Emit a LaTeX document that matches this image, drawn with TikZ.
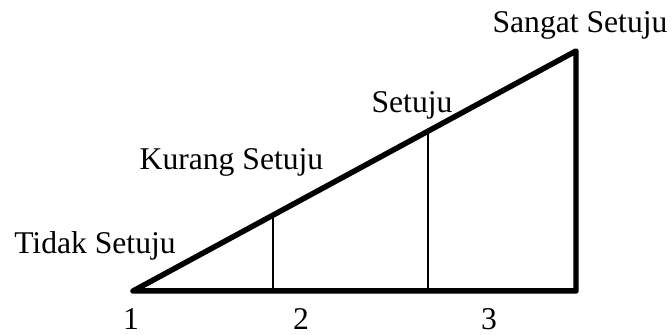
\documentclass[tikz,border=0pt]{standalone}
\usepackage{fontspec}
\setmainfont{Liberation Serif}
\usetikzlibrary{calc}

\begin{document}
\begin{tikzpicture}[line cap=round, line join=round,
    tepi/.style={line width=2.6pt, black},
    sekat/.style={line width=0.6pt, black},
    label/.style={anchor=base, inner sep=0pt, font=\fontsize{15}{18}\selectfont}]
      \useasboundingbox (0,0) rectangle (11.2,5.567);

      % Titik sudut segitiga
      \coordinate (A) at (2.217,0.717);
      \coordinate (B) at (9.6,0.717);
      \coordinate (C) at (9.6,4.717);

      % Garis pembagi
      \coordinate (p1) at ($(A)!0.316!(B)$);
      \coordinate (q1) at ($(A)!0.316!(C)$);
      \coordinate (p2) at ($(A)!0.666!(B)$);
      \coordinate (q2) at ($(A)!0.666!(C)$);
      \draw[sekat] (p1) -- (q1);
      \draw[sekat] (p2) -- (q2);

      % Segitiga
      \draw[tepi] (A) -- (B) -- (C) -- cycle;

      % Skala
      \node[label] (n1) at (2.183,0.08) {1};
      \node[label] (n2) at (5.017,0.08) {2};
      \node[label] (n3) at (8.15,0.08) {3};

      % Kategori
      \node[label] (ts) at (1.583,1.35) {Tidak Setuju};
      \node[label] (ks) at (3.858,2.75) {Kurang Setuju};
      \node[label] (s) at (6.867,3.7) {Setuju};
      \node[label] (ss) at (9.667,5.017) {Sangat Setuju};
\end{tikzpicture}
\end{document}
